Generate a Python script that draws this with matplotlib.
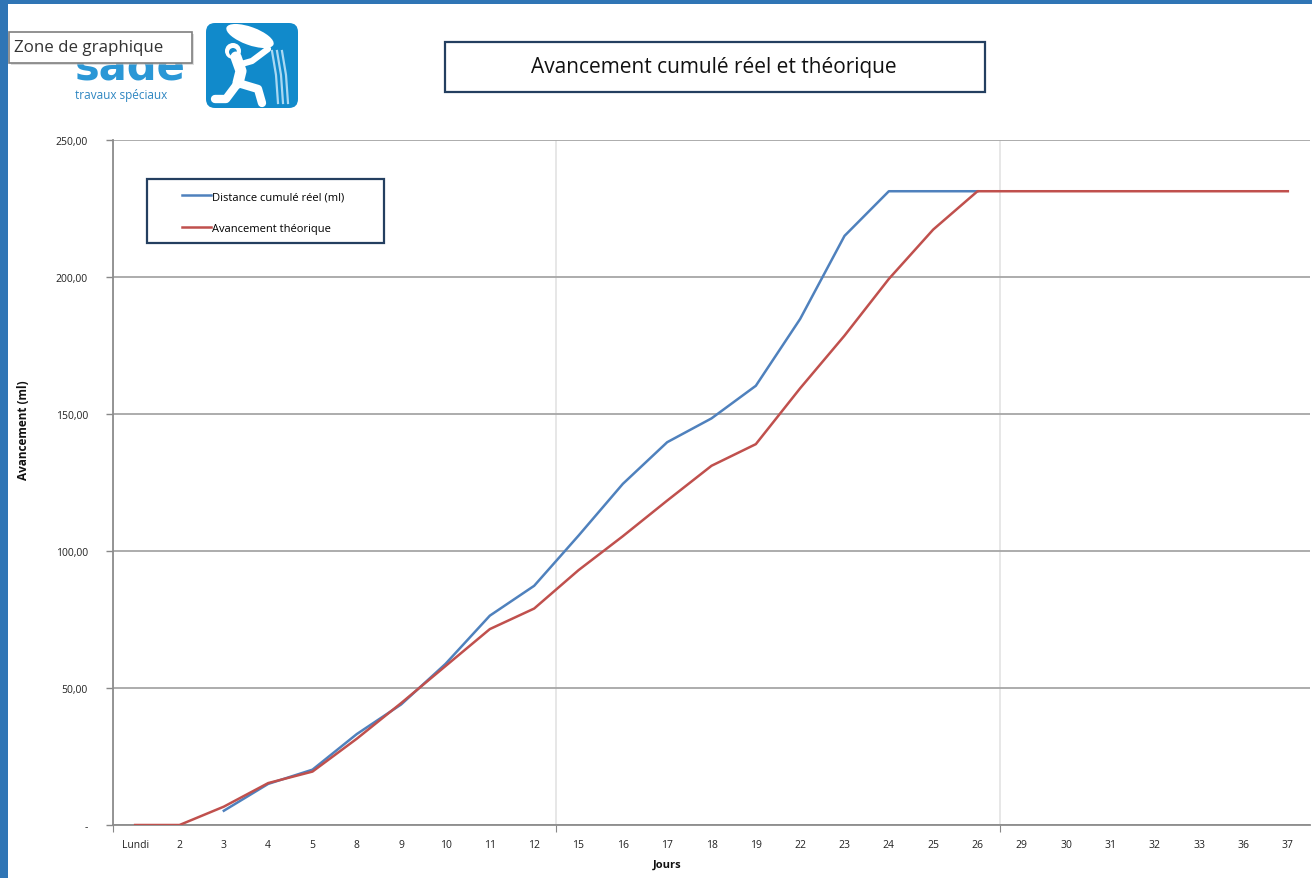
import numpy as np
import matplotlib
matplotlib.use("Agg")
import matplotlib.pyplot as plt
from matplotlib.patches import Rectangle, FancyBboxPatch, Ellipse, Circle
from matplotlib.ticker import FixedLocator, FuncFormatter

plt.rcParams['font.family'] = ['Open Sans', 'DejaVu Sans']

# working days of the site
jours = ["Lundi", "2", "3", "4", "5", "8", "9", "10", "11", "12", "15", "16",
         "17", "18", "19", "22", "23", "24", "25", "26", "29", "30", "31",
         "32", "33", "36", "37"]

nan = np.nan
# cumulated distance actually drilled (ml)
reel = [nan, nan, 5.2, 15.0, 20.2, 33.2, 44.0, 58.8, 76.4, 87.3, 105.6,
        124.5, 139.7, 148.4, 160.3, 184.7, 215.0, 231.3, 231.3, 231.3,
        nan, nan, nan, nan, nan, nan, nan]
# planned progress (ml)
theorique = [0.0, 0.0, 6.7, 15.3, 19.5, 31.5, 44.5, 58.0, 71.5, 79.0, 93.0,
             105.4, 118.4, 131.1, 139.0, 159.4, 178.6, 199.3, 217.3, 231.3,
             231.3, 231.3, 231.3, 231.3, 231.3, 231.3, 231.3]

y_ticks = [0, 50, 100, 150, 200, 250]

W, H = 1312, 879
fig = plt.figure(figsize=(W / 100, H / 100), dpi=100)
fig.patch.set_facecolor("white")

# background layer in pixel coordinates for frame, logo and title box
deco = fig.add_axes([0, 0, 1, 1], zorder=0)
deco.set_xlim(0, W)
deco.set_ylim(H, 0)
deco.axis("off")

ax = fig.add_axes([113 / W, 1 - 826 / H, (1310 - 113) / W, (826 - 141) / H],
                  zorder=1)
ax.patch.set_alpha(0)

x = np.arange(len(jours))
ax.plot(x, reel, color="#4F81BD", lw=1.8, label="Distance cumulé réel (ml)",
        zorder=3, solid_joinstyle="round")
ax.plot(x, theorique, color="#C0504D", lw=1.8, label="Avancement théorique",
        zorder=4, solid_joinstyle="round")

ax.set_xlim(-0.5, len(jours) - 0.5)
ax.set_ylim(0, 250)

# y axis
ax.set_yticks(y_ticks)
ax.yaxis.set_major_formatter(FuncFormatter(
    lambda v, p: "-" if v == 0 else f"{v:.2f}".replace(".", ",")))
ax.tick_params(axis="y", direction="out", length=5, width=1, color="#888888",
               pad=13, labelsize=7.5, labelcolor="#222222")
ax.grid(axis="y", color="#A6A6A6", lw=1.3)

# x axis: labels on categories, ticks and light grid on every 10th boundary
ax.xaxis.set_major_locator(FixedLocator([-0.5, 9.5, 19.5]))
ax.xaxis.set_major_formatter(FuncFormatter(lambda v, p: ""))
ax.xaxis.set_minor_locator(FixedLocator(x))
ax.xaxis.set_minor_formatter(FuncFormatter(
    lambda v, p: jours[int(round(v))]))
ax.tick_params(axis="x", which="major", direction="out", length=5,
               color="#888888")
ax.tick_params(axis="x", which="minor", length=0, pad=10, labelsize=7.5,
               labelcolor="#222222")
ax.grid(axis="x", which="major", color="#E3E3E3", lw=1.2)
ax.set_axisbelow(True)

for side in ["top", "right"]:
    ax.spines[side].set_visible(False)
for side in ["left", "bottom"]:
    ax.spines[side].set_color("#8C8C8C")
    ax.spines[side].set_linewidth(1.3)

ax.set_ylabel("Avancement (ml)", fontsize=8.5, fontweight="bold",
              color="#111111")
ax.yaxis.set_label_coords((30 - 113) / 1197, (826 - 430) / 685)
ax.set_xlabel("Jours", fontsize=8, fontweight="bold", color="#111111")
ax.xaxis.set_label_coords((667 - 113) / 1197, -(860 - 826) / 685)

# legend inside its framed box
deco.add_patch(Rectangle((147, 180), 237, 64, fill=False, ec="#243F60",
                         lw=1.6, zorder=5))
leg = ax.legend(loc="upper left", frameon=False, fontsize=8,
                bbox_to_anchor=(182 / W, 1 - 192 / H),
                bbox_transform=fig.transFigure, borderaxespad=0,
                borderpad=0, handlelength=2.6, handletextpad=0.1,
                labelspacing=1.9)

# title box
deco.add_patch(Rectangle((445, 43), 540, 50, fill=False, ec="#243F60", lw=1.6))
deco.text(714, 68, "Avancement cumulé réel et théorique", fontsize=15,
          ha="center", va="center", color="#111111")

# blue window frame
deco.add_patch(Rectangle((0, 0), W, 5, color="#2F75B5", lw=0))
deco.add_patch(Rectangle((0, 0), 8, H, color="#2F75B5", lw=0))

# company logo
logo_blue = "#118ACB"
deco.text(75, 79, "sade", fontsize=30, fontweight="bold", color="#2A97D6",
          ha="left", va="baseline", family="DejaVu Sans")
deco.text(75, 96, "travaux spéciaux", fontsize=8.5, color="#2E86C1",
          ha="left", va="center")
deco.add_patch(FancyBboxPatch((206, 24), 92, 85,
                              boxstyle="round,pad=0,rounding_size=9",
                              fc=logo_blue, ec="none"))
deco.add_patch(Ellipse((250, 37), 50, 18, angle=20, fc="white", ec="none"))
deco.add_patch(Circle((233, 52), 8, fc="white", ec="none"))
deco.add_patch(Circle((233, 53), 4, fc=logo_blue, ec="none"))
deco.plot([236, 241, 238], [58, 72, 84], color="white", lw=8,
          solid_capstyle="round")
deco.plot([238, 252, 268], [66, 62, 50], color="white", lw=4.5,
          solid_capstyle="round")
deco.plot([238, 226, 215], [84, 100, 100], color="white", lw=6,
          solid_capstyle="round")
deco.plot([238, 258, 262], [84, 90, 104], color="white", lw=6,
          solid_capstyle="round")
for dx in (0, 5, 10):
    deco.plot([272 + dx, 276 + dx, 278 + dx], [52, 76, 104],
              color="#A9D8F2", lw=1.6)

# chart area tooltip
deco.add_patch(Rectangle((11, 35), 183, 31, fc="#BFBFBF", ec="none",
                         alpha=0.5, zorder=6))
deco.add_patch(Rectangle((9, 33), 183, 31, fc="white", ec="#7F7F7F",
                         lw=1.2, zorder=7))
deco.text(14, 48.5, "Zone de graphique", fontsize=12.2, color="#333333",
          ha="left", va="center", zorder=8)

fig.savefig("out.png", dpi=100)
